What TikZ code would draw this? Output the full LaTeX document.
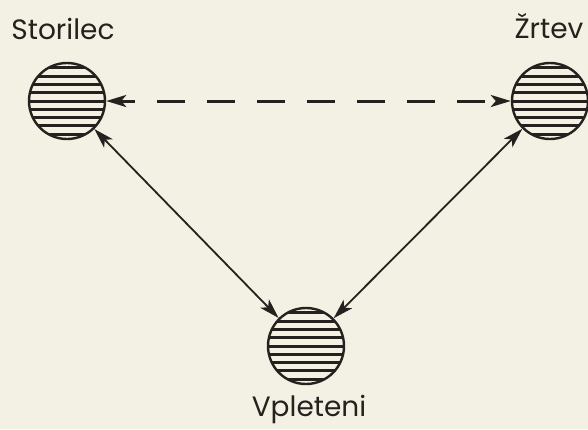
\documentclass[tikz,border=0pt]{standalone}
\usepackage{fontspec}
\setmainfont{Poppins}
\usetikzlibrary{arrows.meta}
\definecolor{papir}{RGB}{243,240,228}
\definecolor{crnilo}{RGB}{38,33,30}

\tikzset{
  oseba/.style={circle, draw=crnilo, line width=2.4pt, minimum size=76pt, inner sep=0pt,
    path picture={\foreach \k in {-4,...,4}
      \draw[crnilo, line width=3pt] ([yshift=\k*8.3pt]path picture bounding box.west) -- ([yshift=\k*8.3pt]path picture bounding box.east);}},
  ime/.style={font=\fontsize{28}{32}\selectfont, text=crnilo, anchor=base, inner sep=0pt},
  vez/.style={crnilo, line width=1.8pt, {Stealth[length=20pt,width=12pt,inset=5pt]}-{Stealth[length=20pt,width=12pt,inset=5pt]}},
}

\begin{document}
\begin{tikzpicture}[x=1pt, y=-1pt]
\fill[papir] (0,0) rectangle (588,429);
\useasboundingbox (0,0) rectangle (588,429);
\node[oseba] (storilec) at (67,101) {};
\node[oseba] (zrtev) at (550,101) {};
\node[oseba] (vpleteni) at (306,346) {};
\node[ime] (storilec-t) at (63,39) {Storilec};
\node[ime] (zrtev-t) at (549,38) {Žrtev};
\node[ime] (vpleteni-t) at (309,416) {Vpleteni};
\draw[vez, line width=3pt, dash pattern=on 28pt off 22pt, dash phase=13pt] (storilec) -- (zrtev);
\draw[vez] (storilec) -- (vpleteni);
\draw[vez] (zrtev) -- (vpleteni);
\end{tikzpicture}
\end{document}
